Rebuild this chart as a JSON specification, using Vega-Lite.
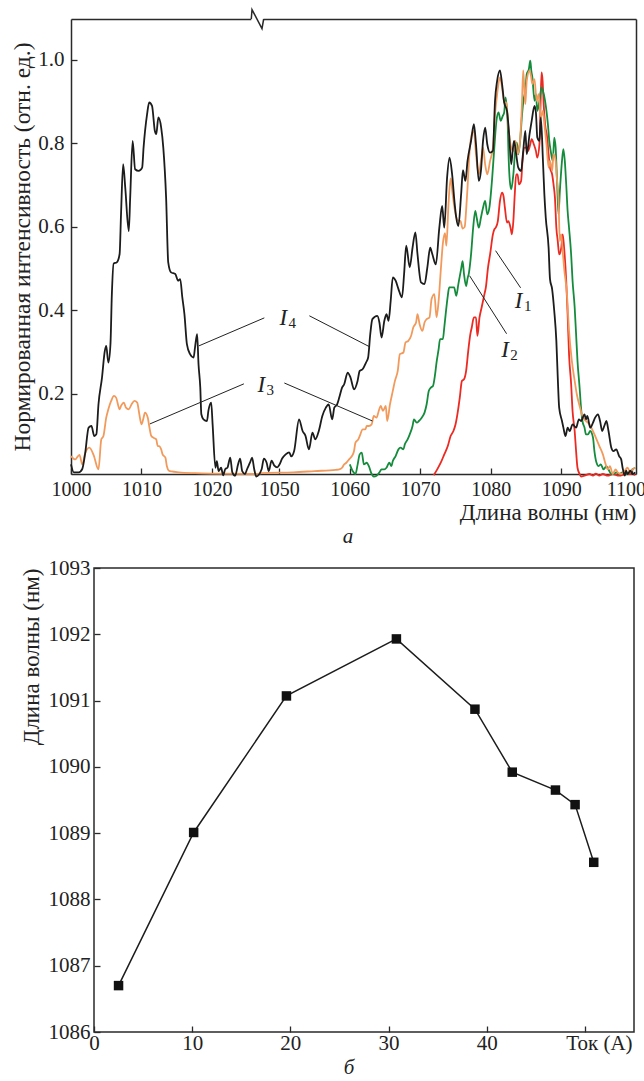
{
"$schema": "https://vega.github.io/schema/vega-lite/v6.json",
"padding": {"left": 10, "top": 6, "right": 5, "bottom": 5},
"spacing": 9,
"config": {
  "font": "Liberation Serif",
  "view": {"stroke": "#2a2a2a", "strokeWidth": 1.5},
  "axis": {"grid": false, "domain": false, "labelFont": "Liberation Serif", "titleFont": "Liberation Serif", "titleFontWeight": "normal", "labelColor": "#222", "titleColor": "#222", "tickColor": "#2a2a2a", "tickWidth": 1.3, "labelFlush": false, "labelOverlap": false},
  "title": {"font": "Liberation Serif", "fontWeight": "normal", "fontStyle": "italic", "color": "#222"}
},
"datasets": {
"spec": [
{"c":"I1","w":1071.9,"v":0.005},{"c":"I1","w":1072.4,"v":0.019},{"c":"I1","w":1072.9,"v":0.035},{"c":"I1","w":1073.4,"v":0.055},{"c":"I1","w":1073.9,"v":0.075},{"c":"I1","w":1074.3,"v":0.099},{"c":"I1","w":1074.7,"v":0.111},{"c":"I1","w":1075.0,"v":0.127},{"c":"I1","w":1075.3,"v":0.155},{"c":"I1","w":1075.6,"v":0.191},{"c":"I1","w":1075.9,"v":0.231},{"c":"I1","w":1076.2,"v":0.235},{"c":"I1","w":1076.5,"v":0.255},{"c":"I1","w":1076.8,"v":0.303},{"c":"I1","w":1077.1,"v":0.343},{"c":"I1","w":1077.3,"v":0.359},{"c":"I1","w":1077.6,"v":0.383},{"c":"I1","w":1077.9,"v":0.383},{"c":"I1","w":1078.1,"v":0.339},{"c":"I1","w":1078.4,"v":0.383},{"c":"I1","w":1078.7,"v":0.407},{"c":"I1","w":1079.1,"v":0.439},{"c":"I1","w":1079.3,"v":0.455},{"c":"I1","w":1079.6,"v":0.502},{"c":"I1","w":1079.9,"v":0.534},{"c":"I1","w":1080.3,"v":0.582},{"c":"I1","w":1080.5,"v":0.594},{"c":"I1","w":1080.7,"v":0.598},{"c":"I1","w":1081.0,"v":0.614},{"c":"I1","w":1081.3,"v":0.662},{"c":"I1","w":1081.6,"v":0.682},{"c":"I1","w":1081.8,"v":0.674},{"c":"I1","w":1082.0,"v":0.646},{"c":"I1","w":1082.3,"v":0.61},{"c":"I1","w":1082.5,"v":0.614},{"c":"I1","w":1082.8,"v":0.598},{"c":"I1","w":1083.0,"v":0.582},{"c":"I1","w":1083.2,"v":0.614},{"c":"I1","w":1083.4,"v":0.678},{"c":"I1","w":1083.6,"v":0.726},{"c":"I1","w":1083.8,"v":0.726},{"c":"I1","w":1084.0,"v":0.702},{"c":"I1","w":1084.3,"v":0.71},{"c":"I1","w":1084.5,"v":0.758},{"c":"I1","w":1084.8,"v":0.79},{"c":"I1","w":1085.0,"v":0.79},{"c":"I1","w":1085.3,"v":0.782},{"c":"I1","w":1085.6,"v":0.798},{"c":"I1","w":1085.8,"v":0.81},{"c":"I1","w":1086.1,"v":0.798},{"c":"I1","w":1086.4,"v":0.782},{"c":"I1","w":1086.6,"v":0.766},{"c":"I1","w":1086.9,"v":0.798},{"c":"I1","w":1087.05,"v":0.886},{"c":"I1","w":1087.2,"v":0.97},{"c":"I1","w":1087.35,"v":0.95},{"c":"I1","w":1087.5,"v":0.894},{"c":"I1","w":1087.7,"v":0.846},{"c":"I1","w":1088.0,"v":0.814},{"c":"I1","w":1088.2,"v":0.774},{"c":"I1","w":1088.4,"v":0.742},{"c":"I1","w":1088.7,"v":0.726},{"c":"I1","w":1088.9,"v":0.702},{"c":"I1","w":1089.1,"v":0.67},{"c":"I1","w":1089.3,"v":0.598},{"c":"I1","w":1089.5,"v":0.566},{"c":"I1","w":1089.7,"v":0.534},{"c":"I1","w":1090.0,"v":0.55},{"c":"I1","w":1090.2,"v":0.582},{"c":"I1","w":1090.4,"v":0.55},{"c":"I1","w":1090.7,"v":0.471},{"c":"I1","w":1090.9,"v":0.391},{"c":"I1","w":1091.1,"v":0.295},{"c":"I1","w":1091.4,"v":0.223},{"c":"I1","w":1091.6,"v":0.159},{"c":"I1","w":1091.9,"v":0.111},{"c":"I1","w":1092.1,"v":0.063},{"c":"I1","w":1092.3,"v":0.023},{"c":"I1","w":1092.6,"v":0.008},{"c":"I1","w":1092.8,"v":0.002},{"c":"I1","w":1093.3,"v":0.004},{"c":"I1","w":1094.0,"v":0.008},{"c":"I1","w":1094.5,"v":0.004},{"c":"I1","w":1094.9,"v":0.009},{"c":"I1","w":1095.4,"v":0.004},{"c":"I1","w":1095.9,"v":0.008},{"c":"I1","w":1096.6,"v":0.004},{"c":"I1","w":1097.3,"v":0.008},{"c":"I1","w":1098.2,"v":0.004},{"c":"I1","w":1099.2,"v":0.008},{"c":"I1","w":1100.1,"v":0.008},{"c":"I1","w":1100.5,"v":0.006},
{"c":"I2","w":1060.0,"v":0.031},{"c":"I2","w":1060.4,"v":0.015},{"c":"I2","w":1060.8,"v":0.008},{"c":"I2","w":1061.1,"v":0.03},{"c":"I2","w":1061.4,"v":0.055},{"c":"I2","w":1061.7,"v":0.059},{"c":"I2","w":1062.0,"v":0.031},{"c":"I2","w":1062.4,"v":0.035},{"c":"I2","w":1062.7,"v":0.027},{"c":"I2","w":1063.1,"v":0.008},{"c":"I2","w":1063.4,"v":0.002},{"c":"I2","w":1063.8,"v":0.004},{"c":"I2","w":1064.2,"v":0.012},{"c":"I2","w":1064.5,"v":0.019},{"c":"I2","w":1064.9,"v":0.019},{"c":"I2","w":1065.2,"v":0.023},{"c":"I2","w":1065.6,"v":0.035},{"c":"I2","w":1065.9,"v":0.027},{"c":"I2","w":1066.1,"v":0.039},{"c":"I2","w":1066.5,"v":0.051},{"c":"I2","w":1066.9,"v":0.067},{"c":"I2","w":1067.2,"v":0.071},{"c":"I2","w":1067.6,"v":0.067},{"c":"I2","w":1067.8,"v":0.079},{"c":"I2","w":1068.2,"v":0.091},{"c":"I2","w":1068.5,"v":0.103},{"c":"I2","w":1068.9,"v":0.123},{"c":"I2","w":1069.1,"v":0.139},{"c":"I2","w":1069.5,"v":0.131},{"c":"I2","w":1069.8,"v":0.135},{"c":"I2","w":1070.2,"v":0.143},{"c":"I2","w":1070.6,"v":0.155},{"c":"I2","w":1070.9,"v":0.175},{"c":"I2","w":1071.2,"v":0.207},{"c":"I2","w":1071.5,"v":0.215},{"c":"I2","w":1071.8,"v":0.219},{"c":"I2","w":1072.1,"v":0.247},{"c":"I2","w":1072.3,"v":0.275},{"c":"I2","w":1072.6,"v":0.307},{"c":"I2","w":1072.8,"v":0.331},{"c":"I2","w":1073.2,"v":0.331},{"c":"I2","w":1073.4,"v":0.359},{"c":"I2","w":1073.6,"v":0.391},{"c":"I2","w":1073.9,"v":0.435},{"c":"I2","w":1074.1,"v":0.455},{"c":"I2","w":1074.5,"v":0.455},{"c":"I2","w":1074.8,"v":0.455},{"c":"I2","w":1075.1,"v":0.435},{"c":"I2","w":1075.4,"v":0.463},{"c":"I2","w":1075.8,"v":0.5},{"c":"I2","w":1076.0,"v":0.518},{"c":"I2","w":1076.2,"v":0.487},{"c":"I2","w":1076.5,"v":0.458},{"c":"I2","w":1076.7,"v":0.476},{"c":"I2","w":1076.9,"v":0.49},{"c":"I2","w":1077.2,"v":0.534},{"c":"I2","w":1077.5,"v":0.598},{"c":"I2","w":1077.8,"v":0.638},{"c":"I2","w":1078.0,"v":0.622},{"c":"I2","w":1078.3,"v":0.598},{"c":"I2","w":1078.6,"v":0.622},{"c":"I2","w":1078.9,"v":0.646},{"c":"I2","w":1079.2,"v":0.662},{"c":"I2","w":1079.5,"v":0.63},{"c":"I2","w":1079.8,"v":0.646},{"c":"I2","w":1080.2,"v":0.718},{"c":"I2","w":1080.5,"v":0.79},{"c":"I2","w":1080.8,"v":0.854},{"c":"I2","w":1081.1,"v":0.874},{"c":"I2","w":1081.4,"v":0.854},{"c":"I2","w":1081.7,"v":0.866},{"c":"I2","w":1081.9,"v":0.874},{"c":"I2","w":1082.1,"v":0.91},{"c":"I2","w":1082.4,"v":0.846},{"c":"I2","w":1082.5,"v":0.782},{"c":"I2","w":1082.7,"v":0.71},{"c":"I2","w":1082.9,"v":0.69},{"c":"I2","w":1083.2,"v":0.726},{"c":"I2","w":1083.5,"v":0.79},{"c":"I2","w":1083.7,"v":0.802},{"c":"I2","w":1083.9,"v":0.774},{"c":"I2","w":1084.2,"v":0.814},{"c":"I2","w":1084.4,"v":0.862},{"c":"I2","w":1084.7,"v":0.91},{"c":"I2","w":1084.9,"v":0.926},{"c":"I2","w":1085.1,"v":0.966},{"c":"I2","w":1085.4,"v":0.978},{"c":"I2","w":1085.6,"v":0.998},{"c":"I2","w":1085.75,"v":0.974},{"c":"I2","w":1085.9,"v":0.958},{"c":"I2","w":1086.2,"v":0.902},{"c":"I2","w":1086.4,"v":0.918},{"c":"I2","w":1086.6,"v":0.878},{"c":"I2","w":1086.9,"v":0.902},{"c":"I2","w":1087.2,"v":0.934},{"c":"I2","w":1087.4,"v":0.926},{"c":"I2","w":1087.7,"v":0.902},{"c":"I2","w":1088.1,"v":0.846},{"c":"I2","w":1088.3,"v":0.806},{"c":"I2","w":1088.5,"v":0.782},{"c":"I2","w":1088.8,"v":0.758},{"c":"I2","w":1089.0,"v":0.814},{"c":"I2","w":1089.2,"v":0.79},{"c":"I2","w":1089.4,"v":0.71},{"c":"I2","w":1089.6,"v":0.63},{"c":"I2","w":1089.8,"v":0.686},{"c":"I2","w":1090.1,"v":0.758},{"c":"I2","w":1090.3,"v":0.786},{"c":"I2","w":1090.5,"v":0.758},{"c":"I2","w":1090.7,"v":0.702},{"c":"I2","w":1090.9,"v":0.638},{"c":"I2","w":1091.1,"v":0.598},{"c":"I2","w":1091.4,"v":0.534},{"c":"I2","w":1091.6,"v":0.471},{"c":"I2","w":1091.9,"v":0.407},{"c":"I2","w":1092.1,"v":0.343},{"c":"I2","w":1092.3,"v":0.279},{"c":"I2","w":1092.6,"v":0.215},{"c":"I2","w":1092.8,"v":0.167},{"c":"I2","w":1093.0,"v":0.135},{"c":"I2","w":1093.3,"v":0.119},{"c":"I2","w":1093.5,"v":0.103},{"c":"I2","w":1093.8,"v":0.103},{"c":"I2","w":1094.1,"v":0.111},{"c":"I2","w":1094.5,"v":0.095},{"c":"I2","w":1094.7,"v":0.063},{"c":"I2","w":1095.0,"v":0.035},{"c":"I2","w":1095.3,"v":0.027},{"c":"I2","w":1095.6,"v":0.031},{"c":"I2","w":1096.0,"v":0.019},{"c":"I2","w":1096.4,"v":0.027},{"c":"I2","w":1096.7,"v":0.019},{"c":"I2","w":1097.1,"v":0.008},{"c":"I2","w":1097.4,"v":0.008},{"c":"I2","w":1097.8,"v":0.012},{"c":"I2","w":1098.2,"v":0.008},{"c":"I2","w":1098.7,"v":0.012},{"c":"I2","w":1099.2,"v":0.008},{"c":"I2","w":1099.7,"v":0.012},{"c":"I2","w":1100.1,"v":0.019},{"c":"I2","w":1100.5,"v":0.023},
{"c":"I3","w":1000.0,"v":0.051},{"c":"I3","w":1000.6,"v":0.043},{"c":"I3","w":1001.2,"v":0.054},{"c":"I3","w":1001.6,"v":0.031},{"c":"I3","w":1002.0,"v":0.057},{"c":"I3","w":1002.6,"v":0.071},{"c":"I3","w":1003.2,"v":0.054},{"c":"I3","w":1003.9,"v":0.019},{"c":"I3","w":1004.3,"v":0.091},{"c":"I3","w":1004.6,"v":0.099},{"c":"I3","w":1005.0,"v":0.143},{"c":"I3","w":1005.3,"v":0.163},{"c":"I3","w":1005.7,"v":0.183},{"c":"I3","w":1006.1,"v":0.195},{"c":"I3","w":1006.4,"v":0.191},{"c":"I3","w":1006.9,"v":0.163},{"c":"I3","w":1007.1,"v":0.171},{"c":"I3","w":1007.5,"v":0.179},{"c":"I3","w":1007.8,"v":0.167},{"c":"I3","w":1008.2,"v":0.163},{"c":"I3","w":1008.6,"v":0.175},{"c":"I3","w":1009.0,"v":0.183},{"c":"I3","w":1009.4,"v":0.179},{"c":"I3","w":1009.7,"v":0.151},{"c":"I3","w":1010.0,"v":0.127},{"c":"I3","w":1010.3,"v":0.143},{"c":"I3","w":1010.5,"v":0.155},{"c":"I3","w":1010.9,"v":0.143},{"c":"I3","w":1011.1,"v":0.123},{"c":"I3","w":1011.4,"v":0.099},{"c":"I3","w":1011.7,"v":0.095},{"c":"I3","w":1012.1,"v":0.091},{"c":"I3","w":1012.3,"v":0.075},{"c":"I3","w":1012.5,"v":0.075},{"c":"I3","w":1012.8,"v":0.067},{"c":"I3","w":1013.0,"v":0.055},{"c":"I3","w":1013.4,"v":0.047},{"c":"I3","w":1013.6,"v":0.027},{"c":"I3","w":1013.9,"v":0.016},{"c":"I3","w":1014.3,"v":0.014},{"c":"I3","w":1015.3,"v":0.012},{"c":"I3","w":1017.6,"v":0.01},{"c":"I3","w":1020.0,"v":0.009},{"c":"I3","w":1026.3,"v":0.008},{"c":"I3","w":1047.5,"v":0.01},{"c":"I3","w":1052.0,"v":0.012},{"c":"I3","w":1055.0,"v":0.015},{"c":"I3","w":1058.0,"v":0.018},{"c":"I3","w":1058.5,"v":0.019},{"c":"I3","w":1058.9,"v":0.023},{"c":"I3","w":1059.2,"v":0.031},{"c":"I3","w":1059.5,"v":0.035},{"c":"I3","w":1059.9,"v":0.043},{"c":"I3","w":1060.3,"v":0.051},{"c":"I3","w":1060.6,"v":0.063},{"c":"I3","w":1060.8,"v":0.083},{"c":"I3","w":1061.2,"v":0.091},{"c":"I3","w":1061.5,"v":0.103},{"c":"I3","w":1061.8,"v":0.115},{"c":"I3","w":1062.2,"v":0.115},{"c":"I3","w":1062.4,"v":0.123},{"c":"I3","w":1062.7,"v":0.123},{"c":"I3","w":1063.1,"v":0.127},{"c":"I3","w":1063.4,"v":0.147},{"c":"I3","w":1063.8,"v":0.143},{"c":"I3","w":1064.1,"v":0.159},{"c":"I3","w":1064.4,"v":0.171},{"c":"I3","w":1064.7,"v":0.159},{"c":"I3","w":1065.1,"v":0.171},{"c":"I3","w":1065.3,"v":0.135},{"c":"I3","w":1065.7,"v":0.175},{"c":"I3","w":1066.1,"v":0.207},{"c":"I3","w":1066.4,"v":0.231},{"c":"I3","w":1066.8,"v":0.255},{"c":"I3","w":1067.1,"v":0.295},{"c":"I3","w":1067.6,"v":0.299},{"c":"I3","w":1067.9,"v":0.323},{"c":"I3","w":1068.3,"v":0.327},{"c":"I3","w":1068.7,"v":0.339},{"c":"I3","w":1069.0,"v":0.359},{"c":"I3","w":1069.4,"v":0.371},{"c":"I3","w":1069.6,"v":0.391},{"c":"I3","w":1069.9,"v":0.367},{"c":"I3","w":1070.3,"v":0.351},{"c":"I3","w":1070.6,"v":0.371},{"c":"I3","w":1070.9,"v":0.379},{"c":"I3","w":1071.3,"v":0.383},{"c":"I3","w":1071.6,"v":0.427},{"c":"I3","w":1072.0,"v":0.439},{"c":"I3","w":1072.3,"v":0.383},{"c":"I3","w":1072.6,"v":0.423},{"c":"I3","w":1072.9,"v":0.495},{"c":"I3","w":1073.2,"v":0.56},{"c":"I3","w":1073.5,"v":0.585},{"c":"I3","w":1073.7,"v":0.555},{"c":"I3","w":1074.0,"v":0.655},{"c":"I3","w":1074.3,"v":0.716},{"c":"I3","w":1074.6,"v":0.676},{"c":"I3","w":1074.9,"v":0.64},{"c":"I3","w":1075.3,"v":0.616},{"c":"I3","w":1075.7,"v":0.614},{"c":"I3","w":1076.0,"v":0.596},{"c":"I3","w":1076.3,"v":0.6},{"c":"I3","w":1076.5,"v":0.64},{"c":"I3","w":1076.7,"v":0.694},{"c":"I3","w":1076.9,"v":0.758},{"c":"I3","w":1077.3,"v":0.822},{"c":"I3","w":1077.6,"v":0.83},{"c":"I3","w":1077.9,"v":0.774},{"c":"I3","w":1078.3,"v":0.726},{"c":"I3","w":1078.6,"v":0.758},{"c":"I3","w":1078.9,"v":0.79},{"c":"I3","w":1079.2,"v":0.75},{"c":"I3","w":1079.5,"v":0.726},{"c":"I3","w":1079.9,"v":0.758},{"c":"I3","w":1080.3,"v":0.79},{"c":"I3","w":1080.6,"v":0.87},{"c":"I3","w":1080.9,"v":0.918},{"c":"I3","w":1081.3,"v":0.958},{"c":"I3","w":1081.6,"v":0.934},{"c":"I3","w":1081.9,"v":0.898},{"c":"I3","w":1082.2,"v":0.898},{"c":"I3","w":1082.5,"v":0.838},{"c":"I3","w":1082.9,"v":0.79},{"c":"I3","w":1083.2,"v":0.782},{"c":"I3","w":1083.5,"v":0.806},{"c":"I3","w":1083.8,"v":0.774},{"c":"I3","w":1084.1,"v":0.798},{"c":"I3","w":1084.4,"v":0.886},{"c":"I3","w":1084.6,"v":0.975},{"c":"I3","w":1084.9,"v":0.894},{"c":"I3","w":1085.1,"v":0.95},{"c":"I3","w":1085.5,"v":0.974},{"c":"I3","w":1085.7,"v":0.962},{"c":"I3","w":1085.9,"v":0.942},{"c":"I3","w":1086.2,"v":0.954},{"c":"I3","w":1086.5,"v":0.902},{"c":"I3","w":1086.8,"v":0.918},{"c":"I3","w":1087.1,"v":0.862},{"c":"I3","w":1087.4,"v":0.878},{"c":"I3","w":1087.6,"v":0.846},{"c":"I3","w":1087.9,"v":0.798},{"c":"I3","w":1088.2,"v":0.742},{"c":"I3","w":1088.4,"v":0.758},{"c":"I3","w":1088.7,"v":0.734},{"c":"I3","w":1088.9,"v":0.774},{"c":"I3","w":1089.2,"v":0.758},{"c":"I3","w":1089.3,"v":0.73},{"c":"I3","w":1089.6,"v":0.67},{"c":"I3","w":1089.8,"v":0.566},{"c":"I3","w":1090.0,"v":0.582},{"c":"I3","w":1090.2,"v":0.542},{"c":"I3","w":1090.4,"v":0.502},{"c":"I3","w":1090.8,"v":0.439},{"c":"I3","w":1091.1,"v":0.351},{"c":"I3","w":1091.5,"v":0.279},{"c":"I3","w":1091.9,"v":0.231},{"c":"I3","w":1092.2,"v":0.199},{"c":"I3","w":1092.6,"v":0.171},{"c":"I3","w":1093.0,"v":0.147},{"c":"I3","w":1093.5,"v":0.135},{"c":"I3","w":1094.0,"v":0.127},{"c":"I3","w":1094.5,"v":0.111},{"c":"I3","w":1094.9,"v":0.095},{"c":"I3","w":1095.4,"v":0.075},{"c":"I3","w":1095.9,"v":0.055},{"c":"I3","w":1096.3,"v":0.031},{"c":"I3","w":1096.6,"v":0.019},{"c":"I3","w":1096.9,"v":0.027},{"c":"I3","w":1097.3,"v":0.008},{"c":"I3","w":1097.7,"v":0.019},{"c":"I3","w":1098.0,"v":0.012},{"c":"I3","w":1098.5,"v":0.008},{"c":"I3","w":1099.0,"v":0.016},{"c":"I3","w":1099.4,"v":0.023},{"c":"I3","w":1099.8,"v":0.012},{"c":"I3","w":1100.1,"v":0.019},{"c":"I3","w":1100.5,"v":0.023},
{"c":"I4","w":1000.0,"v":0.031},{"c":"I4","w":1000.4,"v":0.012},{"c":"I4","w":1001.1,"v":0.012},{"c":"I4","w":1001.6,"v":0.02},{"c":"I4","w":1002.0,"v":0.056},{"c":"I4","w":1002.5,"v":0.119},{"c":"I4","w":1002.9,"v":0.123},{"c":"I4","w":1003.3,"v":0.099},{"c":"I4","w":1003.6,"v":0.103},{"c":"I4","w":1003.9,"v":0.175},{"c":"I4","w":1004.4,"v":0.239},{"c":"I4","w":1004.8,"v":0.303},{"c":"I4","w":1005.0,"v":0.315},{"c":"I4","w":1005.3,"v":0.275},{"c":"I4","w":1005.6,"v":0.319},{"c":"I4","w":1005.8,"v":0.439},{"c":"I4","w":1006.05,"v":0.512},{"c":"I4","w":1006.5,"v":0.515},{"c":"I4","w":1006.9,"v":0.535},{"c":"I4","w":1007.1,"v":0.63},{"c":"I4","w":1007.4,"v":0.75},{"c":"I4","w":1007.7,"v":0.694},{"c":"I4","w":1008.2,"v":0.59},{"c":"I4","w":1008.4,"v":0.67},{"c":"I4","w":1008.75,"v":0.806},{"c":"I4","w":1009.1,"v":0.738},{"c":"I4","w":1009.6,"v":0.734},{"c":"I4","w":1010.1,"v":0.742},{"c":"I4","w":1010.3,"v":0.79},{"c":"I4","w":1010.8,"v":0.87},{"c":"I4","w":1011.1,"v":0.898},{"c":"I4","w":1011.5,"v":0.89},{"c":"I4","w":1011.9,"v":0.83},{"c":"I4","w":1012.1,"v":0.822},{"c":"I4","w":1012.4,"v":0.862},{"c":"I4","w":1012.8,"v":0.838},{"c":"I4","w":1013.1,"v":0.79},{"c":"I4","w":1013.5,"v":0.67},{"c":"I4","w":1013.8,"v":0.515},{"c":"I4","w":1014.2,"v":0.491},{"c":"I4","w":1014.8,"v":0.487},{"c":"I4","w":1015.2,"v":0.471},{"c":"I4","w":1015.5,"v":0.475},{"c":"I4","w":1015.8,"v":0.431},{"c":"I4","w":1016.1,"v":0.391},{"c":"I4","w":1016.45,"v":0.319},{"c":"I4","w":1016.9,"v":0.295},{"c":"I4","w":1017.4,"v":0.287},{"c":"I4","w":1017.6,"v":0.311},{"c":"I4","w":1017.9,"v":0.343},{"c":"I4","w":1018.1,"v":0.271},{"c":"I4","w":1018.35,"v":0.215},{"c":"I4","w":1018.5,"v":0.151},{"c":"I4","w":1018.8,"v":0.139},{"c":"I4","w":1019.3,"v":0.135},{"c":"I4","w":1019.5,"v":0.159},{"c":"I4","w":1019.9,"v":0.179},{"c":"I4","w":1020.1,"v":0.127},{"c":"I4","w":1020.5,"v":0.023},{"c":"I4","w":1020.7,"v":0.039},{"c":"I4","w":1020.95,"v":0.015},{"c":"I4","w":1021.3,"v":0.023},{"c":"I4","w":1021.6,"v":0.005},{"c":"I4","w":1021.9,"v":0.02},{"c":"I4","w":1022.2,"v":0.023},{"c":"I4","w":1022.6,"v":0.047},{"c":"I4","w":1022.9,"v":0.012},{"c":"I4","w":1023.3,"v":0.004},{"c":"I4","w":1023.7,"v":0.03},{"c":"I4","w":1024.0,"v":0.045},{"c":"I4","w":1024.3,"v":0.015},{"c":"I4","w":1024.7,"v":0.008},{"c":"I4","w":1025.0,"v":0.02},{"c":"I4","w":1025.4,"v":0.035},{"c":"I4","w":1025.7,"v":0.047},{"c":"I4","w":1026.0,"v":0.02},{"c":"I4","w":1026.3,"v":0.002},{"c":"I4","w":1047.5,"v":0.02},{"c":"I4","w":1047.8,"v":0.045},{"c":"I4","w":1048.2,"v":0.035},{"c":"I4","w":1048.5,"v":0.015},{"c":"I4","w":1048.9,"v":0.04},{"c":"I4","w":1049.3,"v":0.028},{"c":"I4","w":1049.7,"v":0.024},{"c":"I4","w":1050.0,"v":0.03},{"c":"I4","w":1050.4,"v":0.045},{"c":"I4","w":1050.9,"v":0.055},{"c":"I4","w":1051.4,"v":0.06},{"c":"I4","w":1051.7,"v":0.05},{"c":"I4","w":1052.1,"v":0.063},{"c":"I4","w":1052.8,"v":0.139},{"c":"I4","w":1053.3,"v":0.111},{"c":"I4","w":1053.7,"v":0.1},{"c":"I4","w":1054.2,"v":0.067},{"c":"I4","w":1054.7,"v":0.107},{"c":"I4","w":1055.1,"v":0.091},{"c":"I4","w":1055.6,"v":0.111},{"c":"I4","w":1056.1,"v":0.147},{"c":"I4","w":1056.6,"v":0.167},{"c":"I4","w":1057.0,"v":0.175},{"c":"I4","w":1057.5,"v":0.139},{"c":"I4","w":1057.8,"v":0.167},{"c":"I4","w":1058.2,"v":0.175},{"c":"I4","w":1058.5,"v":0.191},{"c":"I4","w":1058.9,"v":0.215},{"c":"I4","w":1059.2,"v":0.223},{"c":"I4","w":1059.7,"v":0.251},{"c":"I4","w":1060.1,"v":0.239},{"c":"I4","w":1060.6,"v":0.211},{"c":"I4","w":1061.1,"v":0.231},{"c":"I4","w":1061.4,"v":0.255},{"c":"I4","w":1061.8,"v":0.259},{"c":"I4","w":1062.3,"v":0.275},{"c":"I4","w":1062.6,"v":0.287},{"c":"I4","w":1062.9,"v":0.343},{"c":"I4","w":1063.2,"v":0.379},{"c":"I4","w":1063.9,"v":0.387},{"c":"I4","w":1064.2,"v":0.371},{"c":"I4","w":1064.5,"v":0.335},{"c":"I4","w":1064.9,"v":0.375},{"c":"I4","w":1065.2,"v":0.391},{"c":"I4","w":1065.5,"v":0.375},{"c":"I4","w":1065.8,"v":0.423},{"c":"I4","w":1066.1,"v":0.479},{"c":"I4","w":1066.5,"v":0.471},{"c":"I4","w":1066.9,"v":0.451},{"c":"I4","w":1067.4,"v":0.431},{"c":"I4","w":1067.7,"v":0.487},{"c":"I4","w":1068.0,"v":0.555},{"c":"I4","w":1068.5,"v":0.503},{"c":"I4","w":1068.9,"v":0.55},{"c":"I4","w":1069.3,"v":0.587},{"c":"I4","w":1069.6,"v":0.535},{"c":"I4","w":1070.1,"v":0.467},{"c":"I4","w":1070.6,"v":0.463},{"c":"I4","w":1071.0,"v":0.503},{"c":"I4","w":1071.4,"v":0.55},{"c":"I4","w":1071.7,"v":0.535},{"c":"I4","w":1072.2,"v":0.51},{"c":"I4","w":1072.7,"v":0.598},{"c":"I4","w":1073.1,"v":0.65},{"c":"I4","w":1073.4,"v":0.598},{"c":"I4","w":1073.8,"v":0.718},{"c":"I4","w":1074.15,"v":0.766},{"c":"I4","w":1074.5,"v":0.728},{"c":"I4","w":1074.85,"v":0.66},{"c":"I4","w":1075.1,"v":0.622},{"c":"I4","w":1075.4,"v":0.602},{"c":"I4","w":1075.8,"v":0.68},{"c":"I4","w":1076.05,"v":0.736},{"c":"I4","w":1076.4,"v":0.71},{"c":"I4","w":1076.7,"v":0.758},{"c":"I4","w":1077.2,"v":0.806},{"c":"I4","w":1077.6,"v":0.846},{"c":"I4","w":1077.9,"v":0.798},{"c":"I4","w":1078.3,"v":0.71},{"c":"I4","w":1078.6,"v":0.734},{"c":"I4","w":1078.9,"v":0.806},{"c":"I4","w":1079.2,"v":0.838},{"c":"I4","w":1079.5,"v":0.798},{"c":"I4","w":1079.9,"v":0.778},{"c":"I4","w":1080.3,"v":0.782},{"c":"I4","w":1080.6,"v":0.902},{"c":"I4","w":1080.9,"v":0.95},{"c":"I4","w":1081.3,"v":0.975},{"c":"I4","w":1081.6,"v":0.942},{"c":"I4","w":1081.9,"v":0.898},{"c":"I4","w":1082.3,"v":0.878},{"c":"I4","w":1082.6,"v":0.822},{"c":"I4","w":1082.9,"v":0.75},{"c":"I4","w":1083.1,"v":0.782},{"c":"I4","w":1083.3,"v":0.806},{"c":"I4","w":1083.6,"v":0.774},{"c":"I4","w":1083.9,"v":0.742},{"c":"I4","w":1084.3,"v":0.734},{"c":"I4","w":1084.6,"v":0.782},{"c":"I4","w":1084.9,"v":0.83},{"c":"I4","w":1085.1,"v":0.774},{"c":"I4","w":1085.5,"v":0.822},{"c":"I4","w":1085.8,"v":0.854},{"c":"I4","w":1086.2,"v":0.89},{"c":"I4","w":1086.4,"v":0.874},{"c":"I4","w":1086.6,"v":0.814},{"c":"I4","w":1086.9,"v":0.806},{"c":"I4","w":1087.1,"v":0.862},{"c":"I4","w":1087.4,"v":0.758},{"c":"I4","w":1087.6,"v":0.678},{"c":"I4","w":1087.8,"v":0.622},{"c":"I4","w":1088.2,"v":0.55},{"c":"I4","w":1088.4,"v":0.475},{"c":"I4","w":1088.7,"v":0.451},{"c":"I4","w":1089.0,"v":0.399},{"c":"I4","w":1089.3,"v":0.327},{"c":"I4","w":1089.5,"v":0.239},{"c":"I4","w":1089.7,"v":0.167},{"c":"I4","w":1090.1,"v":0.135},{"c":"I4","w":1090.3,"v":0.119},{"c":"I4","w":1090.6,"v":0.099},{"c":"I4","w":1090.9,"v":0.119},{"c":"I4","w":1091.2,"v":0.111},{"c":"I4","w":1091.6,"v":0.127},{"c":"I4","w":1092.1,"v":0.119},{"c":"I4","w":1092.5,"v":0.139},{"c":"I4","w":1092.8,"v":0.135},{"c":"I4","w":1093.3,"v":0.151},{"c":"I4","w":1093.5,"v":0.139},{"c":"I4","w":1093.7,"v":0.147},{"c":"I4","w":1094.1,"v":0.119},{"c":"I4","w":1094.5,"v":0.131},{"c":"I4","w":1094.8,"v":0.143},{"c":"I4","w":1095.2,"v":0.151},{"c":"I4","w":1095.5,"v":0.135},{"c":"I4","w":1095.8,"v":0.111},{"c":"I4","w":1096.1,"v":0.123},{"c":"I4","w":1096.4,"v":0.135},{"c":"I4","w":1096.7,"v":0.111},{"c":"I4","w":1097.1,"v":0.071},{"c":"I4","w":1097.4,"v":0.063},{"c":"I4","w":1097.8,"v":0.067},{"c":"I4","w":1098.2,"v":0.051},{"c":"I4","w":1098.5,"v":0.043},{"c":"I4","w":1098.7,"v":0.023},{"c":"I4","w":1099.0,"v":0.004},{"c":"I4","w":1099.2,"v":0.016},{"c":"I4","w":1099.4,"v":0.008},{"c":"I4","w":1099.8,"v":0.016},{"c":"I4","w":1100.1,"v":0.008},{"c":"I4","w":1100.5,"v":0.012}
],
"leaders": [
{"w":1018.16,"v":0.315,"w2":1047.87,"v2":0.382},
{"w":1054.26,"v":0.387,"w2":1062.78,"v2":0.313},
{"w":1011.2,"v":0.128,"w2":1024.54,"v2":0.224},
{"w":1050.71,"v":0.226,"w2":1063.21,"v2":0.135},
{"w":1080.68,"v":0.543,"w2":1084.23,"v2":0.454},
{"w":1076.99,"v":0.483,"w2":1082.24,"v2":0.344}
],
"labs": [
{"i":"I","s":"4","w":1050.57,"v":0.382},
{"i":"I","s":"3","w":1047.44,"v":0.222},
{"i":"I","s":"1","w":1083.95,"v":0.423},
{"i":"I","s":"2","w":1082.03,"v":0.305}
],
"cover": [{"w":1025.59,"w2":1047.78,"v":1.098}],
"zig": [
{"o":1,"w":1025.59,"v":1.098},
{"o":2,"w":1025.69,"v":1.1205},
{"o":3,"w":1047.54,"v":1.075},
{"o":4,"w":1047.78,"v":1.098}
],
"pts": [
{"a":2.5,"l":1086.7},{"a":10.15,"l":1089.01},{"a":19.6,"l":1091.07},{"a":30.8,"l":1091.93},{"a":38.8,"l":1090.87},{"a":42.6,"l":1089.92},{"a":47.0,"l":1089.65},{"a":49.0,"l":1089.43},{"a":50.9,"l":1088.56}
]
},
"vconcat": [
{
  "width": 542, "height": 455,
  "view": {"stroke": null},
  "title": {"text": "а", "orient": "bottom", "anchor": "middle", "fontSize": 21, "offset": 2, "dx": -17},
  "resolve": {"axis": {"x": "independent", "y": "independent"}},
  "layer": [
    {
      "data": {"name": "spec"},
      "mark": {"type": "line", "strokeWidth": 1.8, "interpolate": "monotone"},
      "encoding": {
        "x": {"field": "w", "type": "quantitative",
              "scale": {"domain": [1000, 1026.4, 1047.4, 1100.6], "range": [-23, 163, 167, 542], "nice": false, "zero": false},
              "axis": {"orient": "bottom", "values": [1000, 1010, 1020, 1050, 1060, 1070, 1080, 1090, 1100], "format": "d", "domain": true, "domainColor": "#2a2a2a", "domainWidth": 1.5, "tickSize": -6, "labelPadding": 11, "labelFontSize": 20,
                       "labelOffset": {"condition": {"test": "datum.value == 1100", "value": -6}, "value": 0},
                       "title": "Длина волны (нм)", "titleFontSize": 23, "titleAnchor": "end", "titlePadding": 2}},
        "y": {"field": "v", "type": "quantitative",
              "scale": {"domain": [0.008, 1.098], "nice": false, "zero": false},
              "axis": {"orient": "left", "offset": 23, "values": [0.2, 0.4, 0.6, 0.8, 1.0], "format": ".1f", "domain": true, "domainColor": "#2a2a2a", "domainWidth": 1.5, "tickSize": -6, "labelPadding": 13, "labelFontSize": 21, "title": "Нормированная интенсивность (отн. ед.)", "titleFontSize": 23.5, "titlePadding": 3}},
        "color": {"field": "c", "type": "nominal", "scale": {"domain": ["I1", "I2", "I3", "I4"], "range": ["#ec2a22", "#148c3c", "#f29a5c", "#1c1c1c"]}, "legend": null}
      }
    },
    {
      "data": {"name": "cover"},
      "mark": {"type": "rule", "color": "white", "strokeWidth": 4},
      "encoding": {
        "x": {"field": "w", "type": "quantitative",
              "scale": {"domain": [1000, 1026.4, 1047.4, 1100.6], "range": [-23, 163, 167, 542], "nice": false, "zero": false},
              "axis": {"orient": "top", "domain": true, "domainColor": "#2a2a2a", "domainWidth": 1.5, "ticks": false, "labels": false, "title": null}},
        "x2": {"field": "w2"},
        "y": {"field": "v", "type": "quantitative",
              "scale": {"domain": [0.008, 1.098], "nice": false, "zero": false},
              "axis": {"orient": "right", "domain": true, "domainColor": "#2a2a2a", "domainWidth": 1.5, "ticks": false, "labels": false, "title": null}}
      }
    },
    {
      "data": {"name": "zig"},
      "mark": {"type": "line", "color": "#2a2a2a", "strokeWidth": 1.5},
      "encoding": {
        "x": {"field": "w", "type": "quantitative", "scale": {"domain": [1000, 1026.4, 1047.4, 1100.6], "range": [-23, 163, 167, 542], "nice": false, "zero": false}, "axis": null},
        "y": {"field": "v", "type": "quantitative", "scale": {"domain": [0.008, 1.098], "nice": false, "zero": false}, "axis": null},
        "order": {"field": "o", "type": "quantitative"}
      }
    },
    {
      "data": {"name": "leaders"},
      "mark": {"type": "rule", "color": "#222", "strokeWidth": 1},
      "encoding": {
        "x": {"field": "w", "type": "quantitative", "scale": {"domain": [1000, 1026.4, 1047.4, 1100.6], "range": [-23, 163, 167, 542], "nice": false, "zero": false}, "axis": null},
        "x2": {"field": "w2"},
        "y": {"field": "v", "type": "quantitative", "scale": {"domain": [0.008, 1.098], "nice": false, "zero": false}, "axis": null},
        "y2": {"field": "v2"}
      }
    },
    {
      "data": {"name": "labs"},
      "mark": {"type": "text", "font": "Liberation Serif", "fontStyle": "italic", "fontSize": 23, "color": "#222", "align": "center", "baseline": "middle"},
      "encoding": {
        "x": {"field": "w", "type": "quantitative", "scale": {"domain": [1000, 1026.4, 1047.4, 1100.6], "range": [-23, 163, 167, 542], "nice": false, "zero": false}, "axis": null},
        "y": {"field": "v", "type": "quantitative", "scale": {"domain": [0.008, 1.098], "nice": false, "zero": false}, "axis": null},
        "text": {"field": "i"}
      }
    },
    {
      "data": {"name": "labs"},
      "mark": {"type": "text", "font": "Liberation Serif", "fontSize": 15, "color": "#222", "align": "center", "baseline": "middle", "dx": 9, "dy": 5},
      "encoding": {
        "x": {"field": "w", "type": "quantitative", "scale": {"domain": [1000, 1026.4, 1047.4, 1100.6], "range": [-23, 163, 167, 542], "nice": false, "zero": false}, "axis": null},
        "y": {"field": "v", "type": "quantitative", "scale": {"domain": [0.008, 1.098], "nice": false, "zero": false}, "axis": null},
        "text": {"field": "s"}
      }
    }
  ]
},
{
  "width": 540, "height": 464,
  "data": {"name": "pts"},
  "title": {"text": "б", "orient": "bottom", "anchor": "middle", "fontSize": 21, "offset": 4, "dx": -15},
  "encoding": {
    "x": {"field": "a", "type": "quantitative", "scale": {"domain": [0, 55], "nice": false, "zero": false},
          "axis": {"values": [0, 10, 20, 30, 40, 50], "format": "d", "tickSize": -6, "labelPadding": 6, "labelFontSize": 21,
                   "labelExpr": "datum.value == 50 ? 'Ток (А)' : datum.label",
                   "labelOffset": {"condition": {"test": "datum.value == 50", "value": 14}, "value": 0},
                   "title": null}},
    "y": {"field": "l", "type": "quantitative", "scale": {"domain": [1086, 1093], "nice": false, "zero": false},
          "axis": {"values": [1086, 1087, 1088, 1089, 1090, 1091, 1092, 1093], "format": "d", "tickSize": -6, "labelPadding": 10, "labelFontSize": 21, "title": "Длина волны (нм)", "titleFontSize": 23, "titleAnchor": "end", "titlePadding": 5}}
  },
  "layer": [
    {"mark": {"type": "line", "color": "#1c1c1c", "strokeWidth": 1.5}},
    {"mark": {"type": "point", "shape": "square", "filled": true, "size": 90, "color": "#111", "opacity": 1}}
  ]
}
]
}
